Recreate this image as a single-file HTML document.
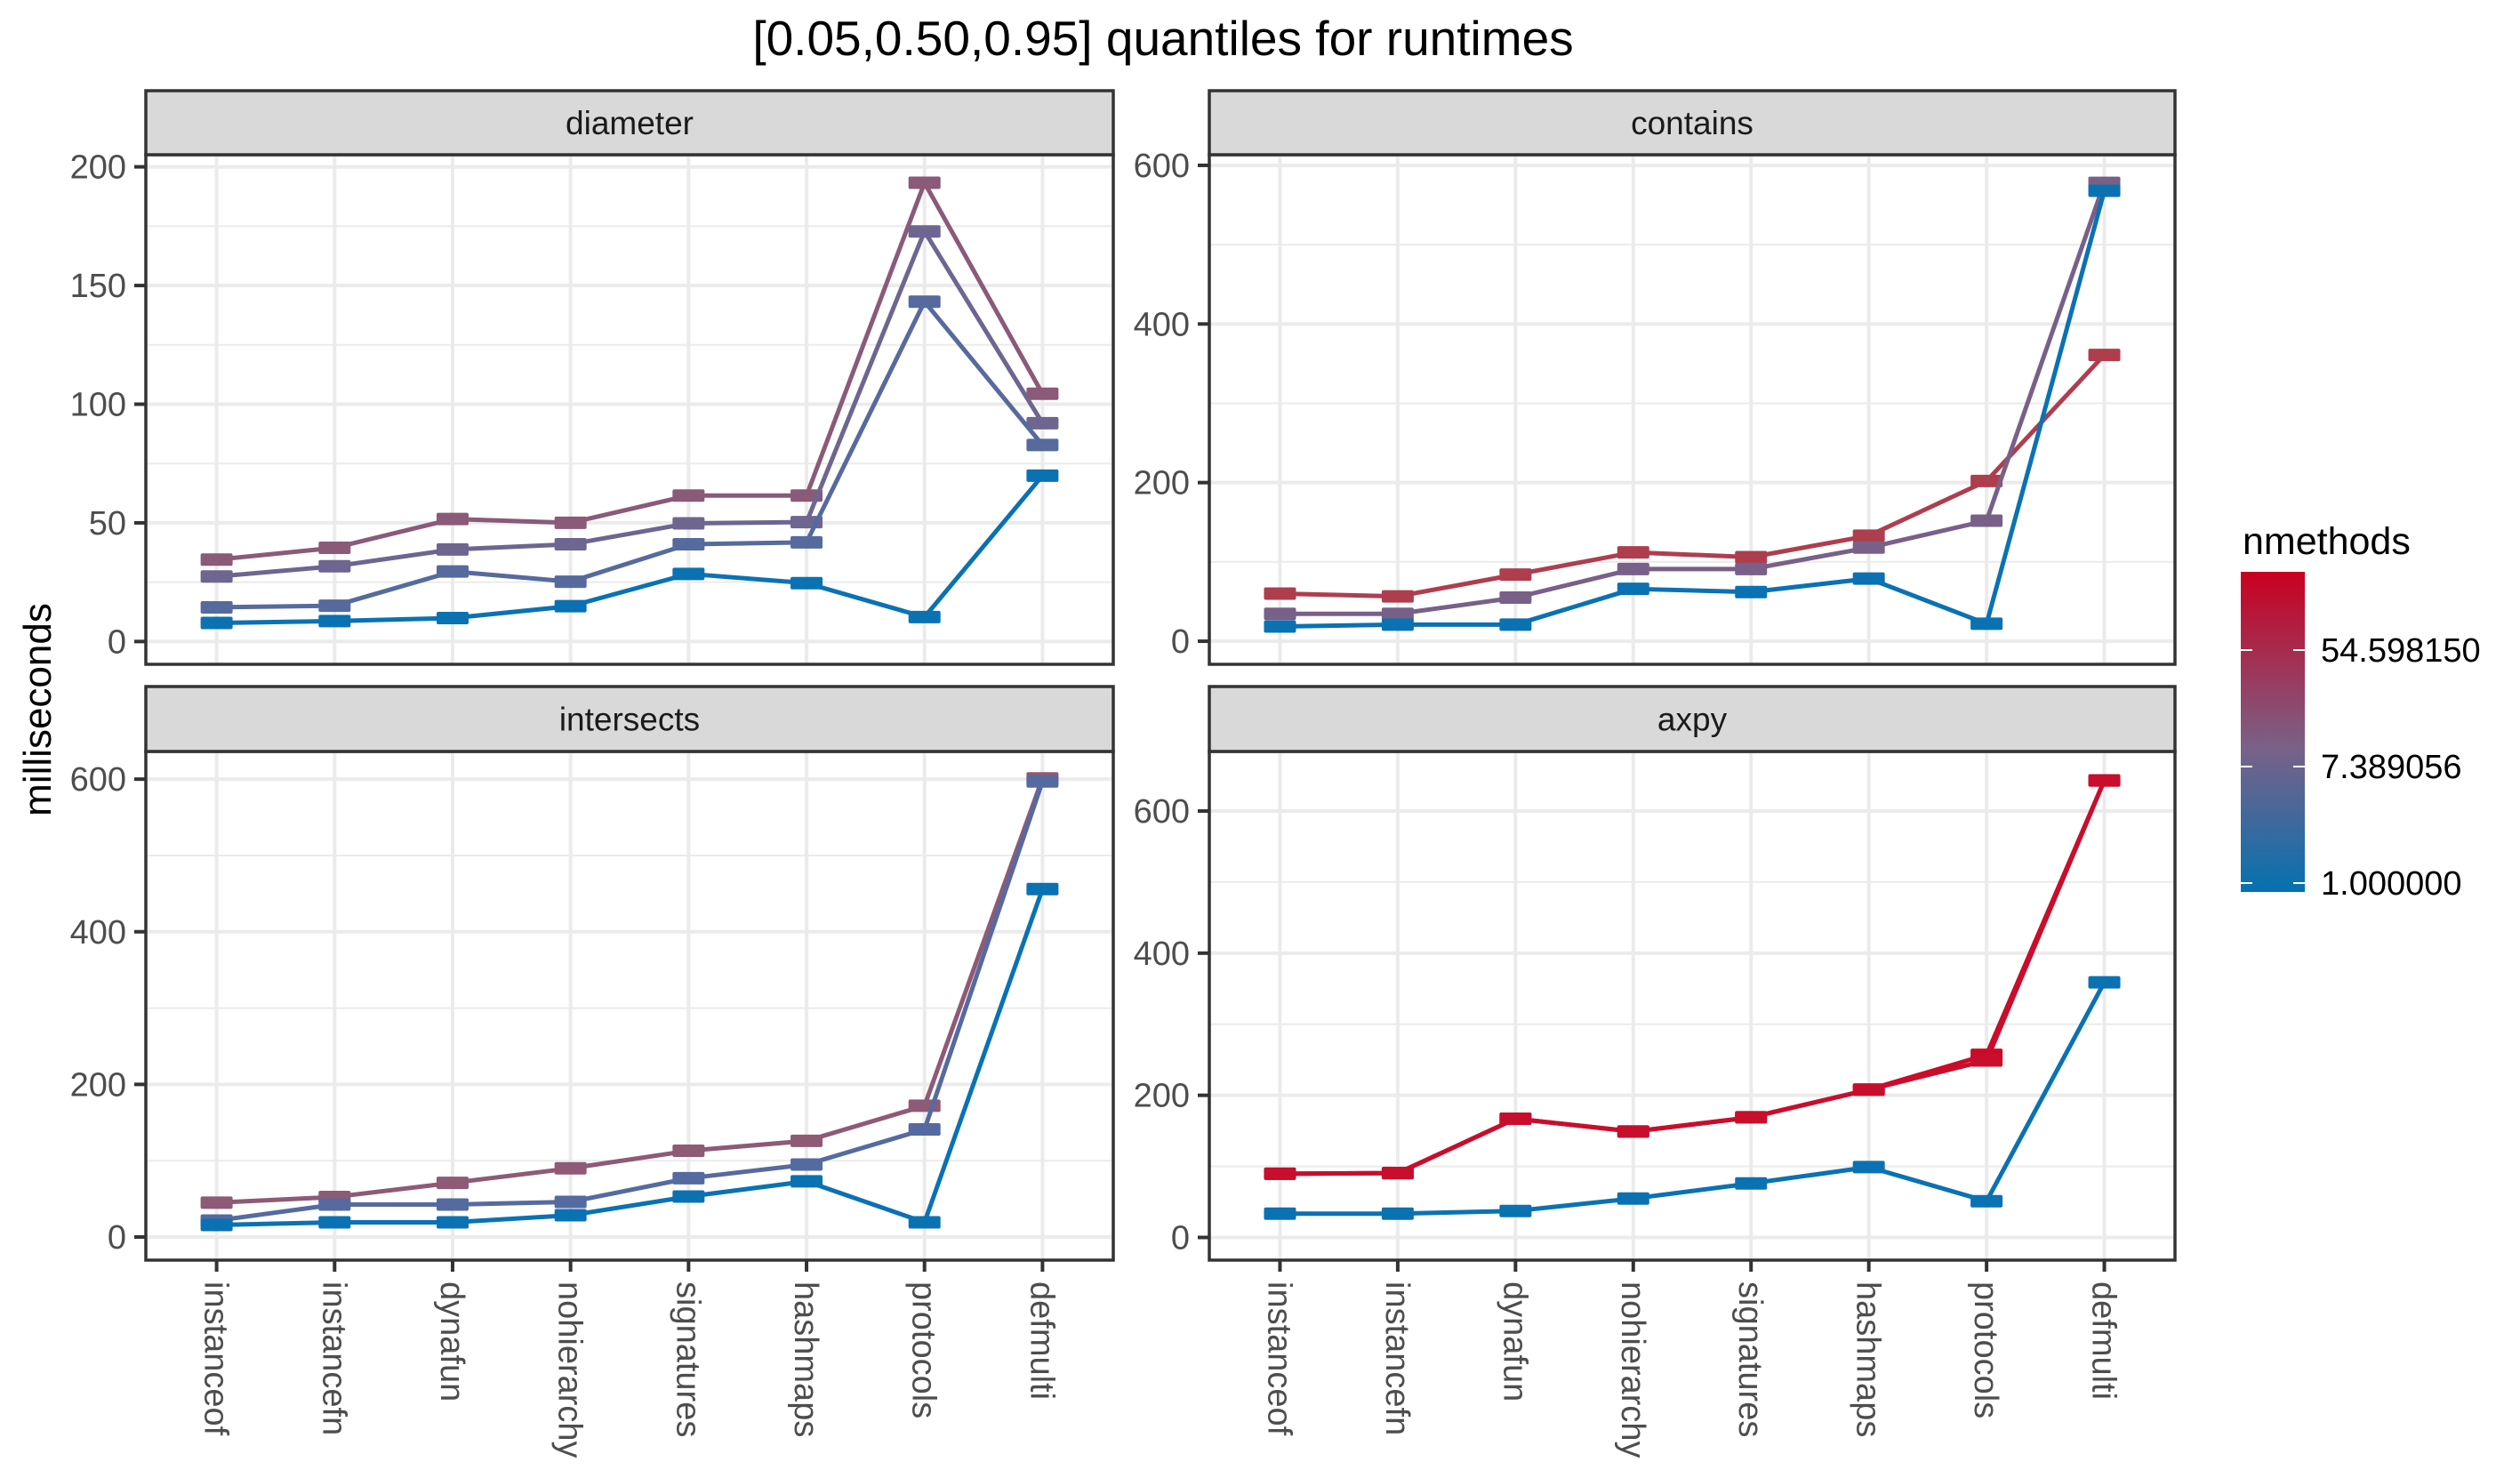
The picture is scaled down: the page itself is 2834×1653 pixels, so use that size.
<!DOCTYPE html>
<html><head><meta charset="utf-8"><style>
html,body{margin:0;padding:0;background:#fff;}
svg{display:block;font-family:"Liberation Sans",Arial,sans-serif;}
</style></head><body>
<svg id="chart" width="2834" height="1653" viewBox="0 0 2834 1653" xmlns="http://www.w3.org/2000/svg">
<defs>
<linearGradient id="cbar" x1="0" y1="1" x2="0" y2="0">
<stop offset="0" stop-color="#0571B0"/>
<stop offset="0.45" stop-color="#7A6187"/>
<stop offset="1" stop-color="#CA0020"/>
</linearGradient>
</defs>
<rect x="0" y="0" width="2834" height="1653" fill="#fff"/>
<text x="1308" y="62" font-size="55" text-anchor="middle" fill="#000">[0.05,0.50,0.95] quantiles for runtimes</text>
<text transform="translate(57,798) rotate(-90)" font-size="44" text-anchor="middle" fill="#000">milliseconds</text>
<g id="panels"></g>
<g id="legend">
<text x="2522" y="623" font-size="43" fill="#000">nmethods</text>
<rect x="2520" y="643" width="72" height="360" fill="url(#cbar)"/>
<g stroke="#fff" stroke-width="2">
<line x1="2520" y1="731" x2="2533" y2="731"/><line x1="2579" y1="731" x2="2592" y2="731"/>
<line x1="2520" y1="862" x2="2533" y2="862"/><line x1="2579" y1="862" x2="2592" y2="862"/>
<line x1="2520" y1="993" x2="2533" y2="993"/><line x1="2579" y1="993" x2="2592" y2="993"/>
</g>
<text x="2610" y="744" font-size="38" fill="#000">54.598150</text>
<text x="2610" y="875" font-size="38" fill="#000">7.389056</text>
<text x="2610" y="1006" font-size="38" fill="#000">1.000000</text>
</g>
</svg>
<script>
const categories = ["instanceof","instancefn","dynafun","nohierarchy","signatures","hashmaps","protocols","defmulti"];

const diameterTicks = [0,50,100,150,200];
const diameterS1 = [34.5,39.5,51.6,50,61.5,61.5,193.3,104.4];
const diameterS2 = [27.4,31.7,38.8,41,49.8,50.3,172.8,92];
const diameterS3 = [14.4,15.1,29.5,25.2,41,41.8,143.2,82.8];
const diameterS4 = [7.8,8.6,9.9,14.9,28.5,24.6,10.3,69.9];

const containsTicks = [0,200,400,600];
const containsS1 = [60,56.6,84,112,106,133,202,361];
const containsS2 = [34.5,34.5,55,91,91,118,152,578];
const containsS3 = [18.5,21,21,66,62,79,22,568];

const intersectsTicks = [0,200,400,600];
const intersectsS1 = [45,52.5,71,90,113,126,172,601];
const intersectsS2 = [21.5,42.5,42.5,46,77,95,141,597];
const intersectsS3 = [15.7,19.2,19.2,28.5,53,73,19.2,456];

const axpyTicks = [0,200,400,600];
const axpyS1 = [89.7,90.5,167,149,169,208,257,643];
const axpyS2 = [89.7,90.5,167,149,169,208,249,643];
const axpyS3 = [33.5,33.5,37.3,54.8,76,99,51,359];

const NS='http://www.w3.org/2000/svg';
function mk(tag, attrs, parent){const e=document.createElementNS(NS,tag);for(const k in attrs)e.setAttribute(k,attrs[k]);parent.appendChild(e);return e;}

const panels = [
 {name:"diameter", x0:164,x1:1252, st:102, sb:174, pb:747, dom:[-9.6,205.1], ticks:diameterTicks, minorStep:25, showX:false,
  series:[[diameterS1,"#8A5A78"],[diameterS2,"#6E6590"],[diameterS3,"#566A9D"],[diameterS4,"#0A72B3"]]},
 {name:"contains", x0:1360,x1:2446, st:102, sb:174, pb:747, dom:[-29.1,613.4], ticks:containsTicks, minorStep:100, showX:false,
  series:[[containsS1,"#AE3E4E"],[containsS2,"#786089"],[containsS3,"#0A72B3"]]},
 {name:"intersects", x0:164,x1:1252, st:772, sb:845, pb:1417, dom:[-30.3,636.3], ticks:intersectsTicks, minorStep:100, showX:true,
  series:[[intersectsS1,"#8E5A76"],[intersectsS2,"#556AA0"],[intersectsS3,"#0A72B3"]]},
 {name:"axpy", x0:1360,x1:2446, st:772, sb:845, pb:1417, dom:[-31.9,683.8], ticks:axpyTicks, minorStep:100, showX:true,
  series:[[axpyS1,"#CB0A28"],[axpyS2,"#C80E2C"],[axpyS3,"#0A72B3"]]}
];

const root=document.getElementById('panels');
panels.forEach(p=>{
  const g=mk('g',{},root);
  
  
  const w=p.x1-p.x0;
  const step=w/(categories.length-1+1.2);
  const xs=i=>p.x0+step*(0.6+i);
  const ys=v=>p.pb-(v-p.dom[0])/(p.dom[1]-p.dom[0])*(p.pb-p.sb);
  mk('rect',{x:p.x0,y:p.sb,width:w,height:p.pb-p.sb,fill:'#fff'},g);
  for(let v=p.ticks[0]-p.minorStep; v<=p.dom[1]; v+=p.minorStep){
    if(v<p.dom[0]) continue;
    if(p.ticks.indexOf(v)>=0) continue;
    mk('line',{x1:p.x0,x2:p.x1,y1:ys(v),y2:ys(v),stroke:'#EBEBEB','stroke-width':2},g);
  }
  p.ticks.forEach(v=>{
    const gl=mk('line',{x1:p.x0,x2:p.x1,y1:ys(v),y2:ys(v),stroke:'#EBEBEB','stroke-width':4},g);
    
    
    mk('line',{x1:p.x0-13,x2:p.x0,y1:ys(v),y2:ys(v),stroke:'#333','stroke-width':4},g);
    const t=mk('text',{x:p.x0-22,y:ys(v)+13,'font-size':38,'text-anchor':'end',fill:'#4D4D4D'},g);
    t.textContent=v;
    
    
  });
  categories.forEach((c,i)=>{
    mk('line',{x1:xs(i),x2:xs(i),y1:p.sb,y2:p.pb,stroke:'#EBEBEB','stroke-width':4},g);
    if(p.showX){
      mk('line',{x1:xs(i),x2:xs(i),y1:p.pb,y2:p.pb+13,stroke:'#333','stroke-width':4},g);
      const t=mk('text',{transform:'translate('+(xs(i)-13)+','+(p.pb+24)+') rotate(90)','font-size':38,fill:'#4D4D4D'},g);
      t.textContent=c;
      
      
    }
  });
  p.series.forEach((s,si)=>{
    const vals=s[0], col=s[1];
    const pts=vals.map((v,i)=>xs(i)+','+ys(v)).join(' ');
    const pl=mk('polyline',{points:pts,fill:'none',stroke:col,'stroke-width':5,'stroke-linejoin':'round'},g);
    
    
    vals.forEach((v,i)=>{
      const r=mk('rect',{x:xs(i)-18,y:ys(v)-7,width:36,height:14,rx:2,fill:col},g);
      
      
    });
  });
  mk('rect',{x:p.x0,y:p.sb,width:w,height:p.pb-p.sb,fill:'none',stroke:'#333','stroke-width':3.5},g);
  const strip=mk('rect',{x:p.x0,y:p.st,width:w,height:p.sb-p.st,fill:'#D9D9D9',stroke:'#333','stroke-width':3.5},g);
  
  
  const st=mk('text',{x:(p.x0+p.x1)/2,y:(p.st+p.sb)/2+13,'font-size':37,'text-anchor':'middle',fill:'#1A1A1A'},g);
  st.textContent=p.name;
  
  
});
</script>
</body></html>
